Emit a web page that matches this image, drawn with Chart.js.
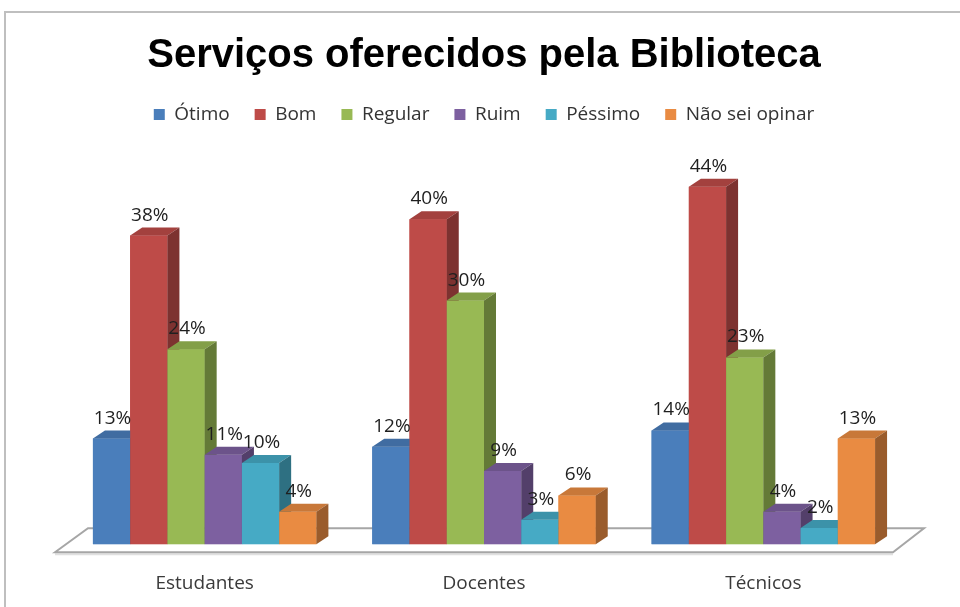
<!DOCTYPE html>
<html lang="pt">
<head>
    <meta charset="UTF-8">
    <title>Serviços oferecidos pela Biblioteca</title>
    <script src="https://cdn.jsdelivr.net/npm/chart.js"></script> <!--chart.js-->
    <style>
        body { margin: 0; background: #ffffff; }
        #moldura { position: absolute; left: 4px; top: 11px; width: 960px; height: 600px; border-top: 2px solid #bfbfbf; border-left: 2px solid #bfbfbf; }
        #div-grafico { position: absolute; left: 0; top: 0; width: 960px; height: 607px; }
    </style>
</head>
<body>
    <div id="moldura"></div>
    <div id="div-grafico">
        <canvas id="grafico" width="960" height="607"></canvas>
    </div>
    <script>
        // dados (%)
        const categorias = ['Estudantes', 'Docentes', 'Técnicos'];
        const otimo   = [13, 12, 14];
        const bom     = [38, 40, 44];
        const regular = [24, 30, 23];
        const ruim    = [11, 9, 4];
        const pessimo = [10, 3, 2];
        const naoSei  = [4, 6, 13];

        const series = [
            { nome: 'Ótimo', valores: otimo, cor: '#4A7EBB' },
            { nome: 'Bom', valores: bom, cor: '#BE4B48' },
            { nome: 'Regular', valores: regular, cor: '#98B954' },
            { nome: 'Ruim', valores: ruim, cor: '#7D60A0' },
            { nome: 'Péssimo', valores: pessimo, cor: '#46AAC5' },
            { nome: 'Não sei opinar', valores: naoSei, cor: '#E98B42' }
        ];

        const DX = 12, DY = 8; // profundidade das barras

        // escurece uma cor hex
        function sombra(hex, f) {
            const n = parseInt(hex.slice(1), 16);
            const r = Math.round(((n >> 16) & 255) * f);
            const g = Math.round(((n >> 8) & 255) * f);
            const b = Math.round((n & 255) * f);
            return `rgb(${r},${g},${b})`;
        }

        function poligono(ctx, pts, cor) {
            ctx.beginPath();
            ctx.moveTo(pts[0][0], pts[0][1]);
            for (let k = 1; k < pts.length; k++) ctx.lineTo(pts[k][0], pts[k][1]);
            ctx.closePath();
            ctx.fillStyle = cor;
            ctx.fill();
        }

        // plugin: piso e efeito 3D das barras + rótulos
        const barras3d = {
            id: 'barras3d',
            beforeDatasetsDraw: (chart) => {
                const ctx = chart.ctx;
                const a = chart.chartArea;
                const frente = a.bottom + 8, fundo = a.bottom - 16;
                ctx.save();
                ctx.beginPath();
                ctx.moveTo(a.left - 10, frente + 2);
                ctx.lineTo(a.right - 10, frente + 2);
                ctx.strokeStyle = '#e0e0e0';
                ctx.lineWidth = 2;
                ctx.stroke();
                ctx.beginPath();
                ctx.moveTo(a.left - 10, frente);
                ctx.lineTo(a.left + 23, fundo);
                ctx.lineTo(a.right + 21, fundo);
                ctx.lineTo(a.right - 10, frente);
                ctx.closePath();
                ctx.fillStyle = '#ffffff';
                ctx.fill();
                ctx.strokeStyle = '#a6a6a6';
                ctx.lineWidth = 2;
                ctx.stroke();
                ctx.restore();
            },
            afterDatasetsDraw: (chart) => {
                const ctx = chart.ctx;
                ctx.save();
                categorias.forEach((c, j) => {
                    series.forEach((s, i) => {
                        const el = chart.getDatasetMeta(i).data[j];
                        const p = el.getProps(['x', 'y', 'base', 'width'], true);
                        const esq = p.x - p.width / 2, dir = p.x + p.width / 2;
                        poligono(ctx, [[esq, p.y], [dir, p.y], [dir, p.base], [esq, p.base]], s.cor);
                        poligono(ctx, [[esq, p.y], [esq + DX, p.y - DY], [dir + DX, p.y - DY], [dir, p.y]], sombra(s.cor, 0.86));
                        poligono(ctx, [[dir, p.y], [dir + DX, p.y - DY], [dir + DX, p.base - DY], [dir, p.base]], sombra(s.cor, 0.66));
                    });
                });
                // rótulos de porcentagem
                ctx.font = '19px "Open Sans"';
                ctx.fillStyle = '#1f1f1f';
                ctx.textAlign = 'center';
                ctx.textBaseline = 'alphabetic';
                series.forEach((s, i) => {
                    chart.getDatasetMeta(i).data.forEach((el, j) => {
                        ctx.fillText(s.valores[j] + '%', el.x + 1, el.y - 15);
                    });
                });
                ctx.restore();
            }
        };

        const ctx = document.getElementById('grafico').getContext('2d');
        const grafico = new Chart(ctx, {
            type: 'bar',
            data: {
                labels: categorias,
                datasets: series.map(s => ({
                    label: s.nome,
                    data: s.valores,
                    backgroundColor: s.cor,
                    borderWidth: 0,
                    categoryPercentage: 0.8,
                    barPercentage: 1.0
                }))
            },
            options: {
                responsive: false,
                animation: false,
                layout: { padding: { left: 65, right: 57, top: 12, bottom: -16 } },
                scales: {
                    x: {
                        grid: { display: false, drawTicks: false },
                        border: { display: false },
                        ticks: { color: '#3a3a3a', font: { family: 'Open Sans', size: 19 }, padding: 28, maxRotation: 0 }
                    },
                    y: { display: false, min: 0, max: 50.5 }
                },
                plugins: {
                    title: {
                        display: true,
                        text: 'Serviços oferecidos pela Biblioteca',
                        color: '#000000',
                        font: { family: 'Liberation Sans', size: 40, weight: 'bold' },
                        padding: { top: 20, bottom: 0 }
                    },
                    legend: {
                        labels: {
                            color: '#333333',
                            font: { family: 'Open Sans', size: 19 },
                            boxWidth: 11,
                            boxHeight: 11,
                            padding: 25
                        }
                    },
                    tooltip: { enabled: false }
                }
            },
            plugins: [barras3d]
        });
    </script>
</body>
</html>
